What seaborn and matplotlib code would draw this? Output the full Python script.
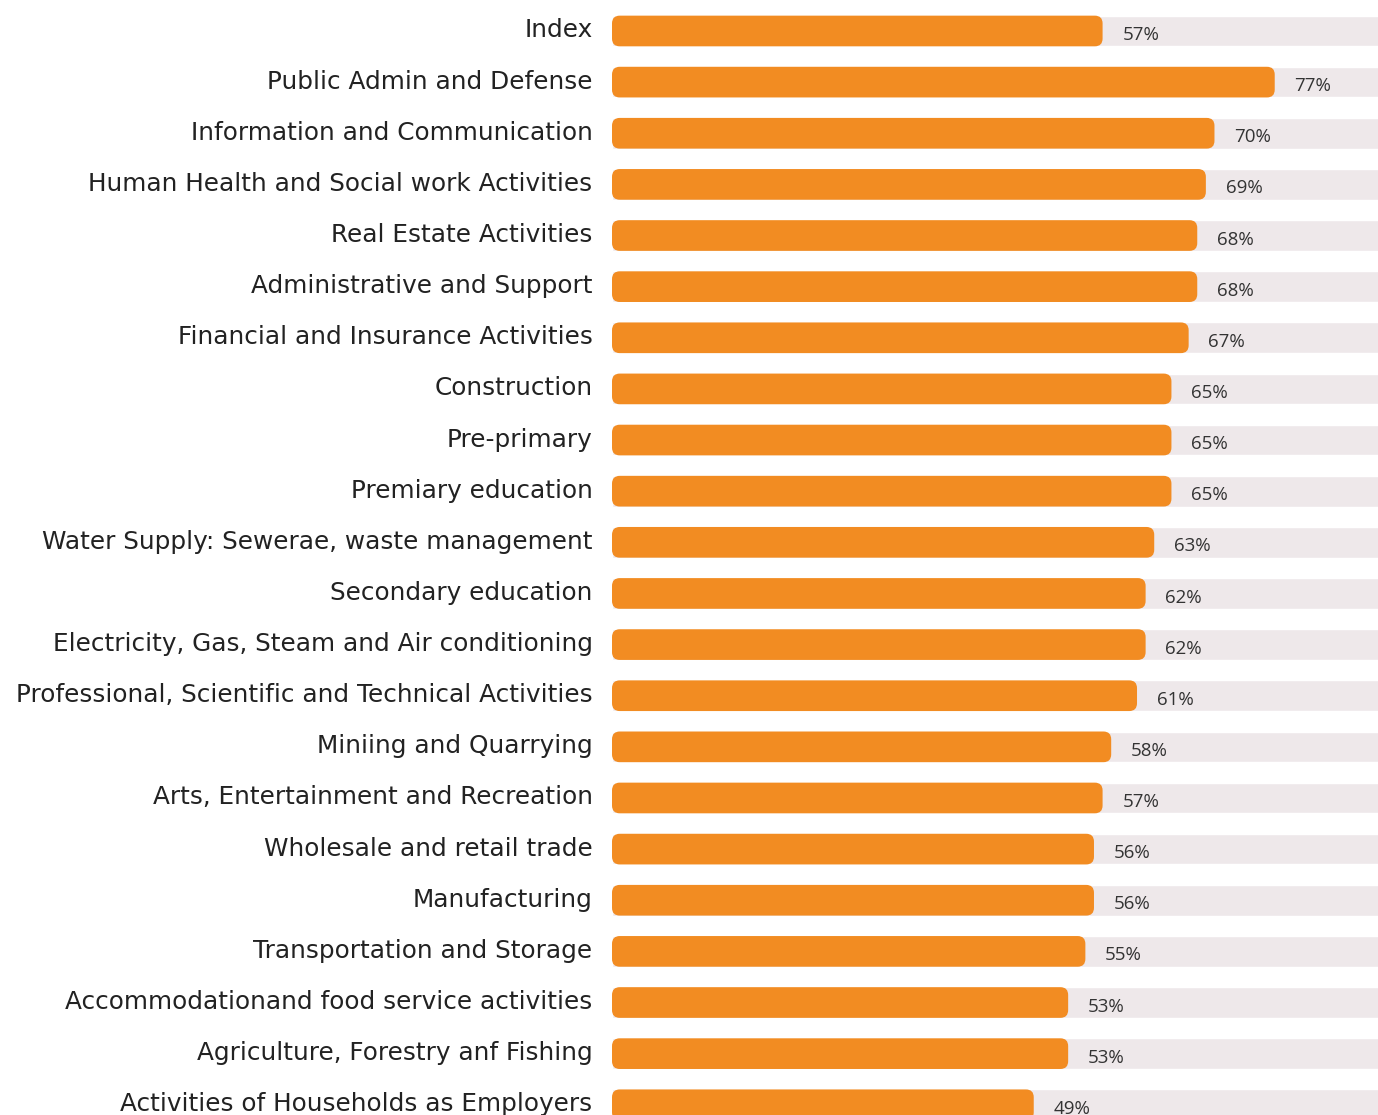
import matplotlib
matplotlib.use("Agg")
import matplotlib.pyplot as plt
import matplotlib.transforms as mtransforms
import pandas as pd
import seaborn as sns
from matplotlib.patches import FancyBboxPatch

# data
sectors = [
    "Index",
    "Public Admin and Defense",
    "Information and Communication",
    "Human Health and Social work Activities",
    "Real Estate Activities",
    "Administrative and Support",
    "Financial and Insurance Activities",
    "Construction",
    "Pre-primary",
    "Premiary education",
    "Water Supply: Sewerae, waste management",
    "Secondary education",
    "Electricity, Gas, Steam and Air conditioning",
    "Professional, Scientific and Technical Activities",
    "Miniing and Quarrying",
    "Arts, Entertainment and Recreation",
    "Wholesale and retail trade",
    "Manufacturing",
    "Transportation and Storage",
    "Accommodationand food service activities",
    "Agriculture, Forestry anf Fishing",
    "Activities of Households as Employers",
]
scores = [57, 77, 70, 69, 68, 68, 67, 65, 65, 65, 63, 62, 62, 61, 58, 57, 56, 56, 55, 53, 53, 49]
full_scale = [100] * len(sectors)

ORANGE = "#F28C22"
TRACK = "#EEE8EA"

df = pd.DataFrame({"sector": sectors, "score": scores, "full": full_scale})

sns.set_theme(style="white")
plt.rcParams["font.family"] = ["Open Sans", "DejaVu Sans"]

fig = plt.figure(figsize=(13.78, 11.15), dpi=100)
ax = fig.add_axes([612 / 1378, 0, (1378 - 612) / 1378, 1])

# grey track behind each bar, then the orange value bars
sns.barplot(data=df, x="full", y="sector", orient="h", color=TRACK,
            width=0.6, saturation=1, ax=ax)
n_track = len(ax.patches)
sns.barplot(data=df, x="score", y="sector", orient="h", color=ORANGE,
            width=0.6, saturation=1, ax=ax)

ax.set_xlim(0, 89)
ax.set_ylim(21.2, -0.606)

# swap the orange rectangles for rounded ones
for p in list(ax.patches[n_track:]):
    rb = FancyBboxPatch((p.get_x(), p.get_y()), p.get_width(), p.get_height(),
                        boxstyle="round,pad=0,rounding_size=0.9",
                        mutation_aspect=0.17, facecolor=ORANGE,
                        edgecolor="none", zorder=3)
    p.remove()
    ax.add_patch(rb)

# value labels
for i, v in enumerate(scores):
    ax.text(v + 2.3, i + 0.08, f"{v}%", va="center", ha="left",
            fontsize=13.5, color="#333333", zorder=4)

ax.set_xlabel("")
ax.set_ylabel("")
ax.set_xticks([])
ax.tick_params(axis="y", length=0, pad=14, labelsize=17.8, labelcolor="#222222")
# nudge category labels up a little, like the reference
shift = mtransforms.ScaledTranslation(0, 3 / 100, fig.dpi_scale_trans)
for lbl in ax.get_yticklabels():
    lbl.set_family(["DejaVu Sans"])
    lbl.set_transform(lbl.get_transform() + shift)
sns.despine(ax=ax, left=True, bottom=True)

fig.savefig("out.png", dpi=100)
